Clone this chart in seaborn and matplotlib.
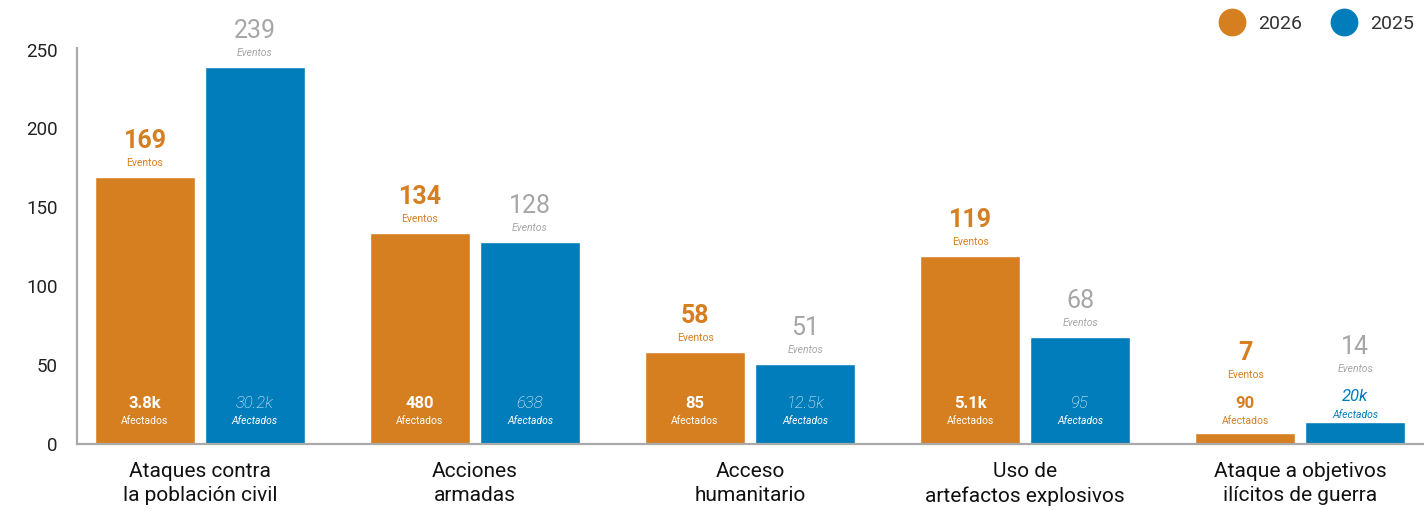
import numpy as np
import pandas as pd
import matplotlib
matplotlib.use("Agg")
import matplotlib.pyplot as plt
from matplotlib.lines import Line2D
import seaborn as sns

categories = ["Ataques contra\nla población civil", "Acciones\narmadas",
              "Acceso\nhumanitario", "Uso de\nartefactos explosivos",
              "Ataque a objetivos\nilícitos de guerra"]
years = ["2026", "2025"]
eventos_2026 = [169, 134, 58, 119, 7]
eventos_2025 = [239, 128, 51, 68, 14]
afectados_2026 = ["3.8k", "480", "85", "5.1k", "90"]
afectados_2025 = ["30.2k", "638", "12.5k", "95", "20k"]
y_ticks = [0, 50, 100, 150, 200, 250]

ORANGE = "#D67F21"
BLUE = "#007DBA"
GREY = "#A6A6A6"
palette = {"2026": ORANGE, "2025": BLUE}

df = pd.DataFrame({
    "cat": categories * 2,
    "year": ["2026"] * 5 + ["2025"] * 5,
    "val": eventos_2026 + eventos_2025,
})

sns.set_theme(style="white")
FONTS = ["Liberation Sans Narrow", "Roboto", "DejaVu Sans"]
plt.rcParams["font.family"] = FONTS

DPI = 100
fig = plt.figure(figsize=(14.24, 5.11), dpi=DPI)
ax = fig.add_axes([77 / 1424, 67 / 511, 1 - 77 / 1424, (444 - 48) / 511])

sns.barplot(data=df, x="cat", y="val", hue="year", hue_order=years,
            order=categories, palette=palette, width=0.8, gap=0.09,
            saturation=1, ax=ax, legend=False, zorder=1)

ax.set_ylim(0, 251)
ax.set_xlim(-0.447, 4.45)
ax.set_yticks(y_ticks)
ax.set_xlabel("")
ax.set_ylabel("")
ax.tick_params(axis="y", length=0, pad=14, labelsize=13.5, labelcolor="#222222")
ax.tick_params(axis="x", length=0, pad=13, labelsize=15, labelcolor="#111111")
for t in ax.get_xticklabels():
    t.set_linespacing(1.35)
for s in ["top", "right"]:
    ax.spines[s].set_visible(False)
for s in ["left", "bottom"]:
    ax.spines[s].set_color("#AAAAAA")
    ax.spines[s].set_linewidth(1.6)
    ax.spines[s].set_zorder(5)
ax.grid(False)

y2px = (444 - 48) / 251.0  # pixels per data unit

eventos = {"2026": eventos_2026, "2025": eventos_2025}
afect = {"2026": afectados_2026, "2025": afectados_2025}

def put(text, xc, ypx, **kw):
    ax.text(xc, ypx / y2px, text, ha="center", va="center", zorder=20, **kw)

for yr, cont in zip(years, ax.containers):
    for i, bar in enumerate(cont.patches):
        xc = bar.get_x() + bar.get_width() / 2
        h = bar.get_height()
        bar_px = h * y2px
        is26 = yr == "2026"
        inside = bar_px > 60
        if is26:
            num_style = dict(fontweight="bold")
        else:
            num_style = dict(fontweight="light" if inside else "normal", fontstyle="italic")
        lab_style = dict() if is26 else dict(fontstyle="italic")
        # Afectados
        lab_px = 23 if inside else max(23, bar_px + 7)
        acol = "#FFFFFF" if inside else (ORANGE if is26 else BLUE)
        put(afect[yr][i], xc, lab_px + 18, fontsize=12, color=acol, **num_style)
        put("Afectados", xc, lab_px, fontsize=7.5, color=acol, **lab_style)
        # Eventos
        ev_lab = bar_px + 14 if inside else lab_px + 18 + 28
        ecol = ORANGE if is26 else GREY
        ev_num_style = dict(fontweight="bold") if is26 else dict(fontweight="normal")
        put(str(eventos[yr][i]), xc, ev_lab + 22, fontsize=18, color=ecol, **ev_num_style)
        put("Eventos", xc, ev_lab, fontsize=7.5, color=ecol, **lab_style)

handles = [Line2D([0], [0], marker="o", linestyle="", markersize=19,
                  markerfacecolor=palette[y], markeredgecolor=palette[y], label=y)
           for y in years]
fig.legend(handles=handles, loc="upper right", bbox_to_anchor=(1.005, 1.005), ncol=2,
           frameon=False, fontsize=14, handletextpad=0.3, columnspacing=1.2,
           labelcolor="#333333")

fig.savefig("out.png", dpi=DPI)
